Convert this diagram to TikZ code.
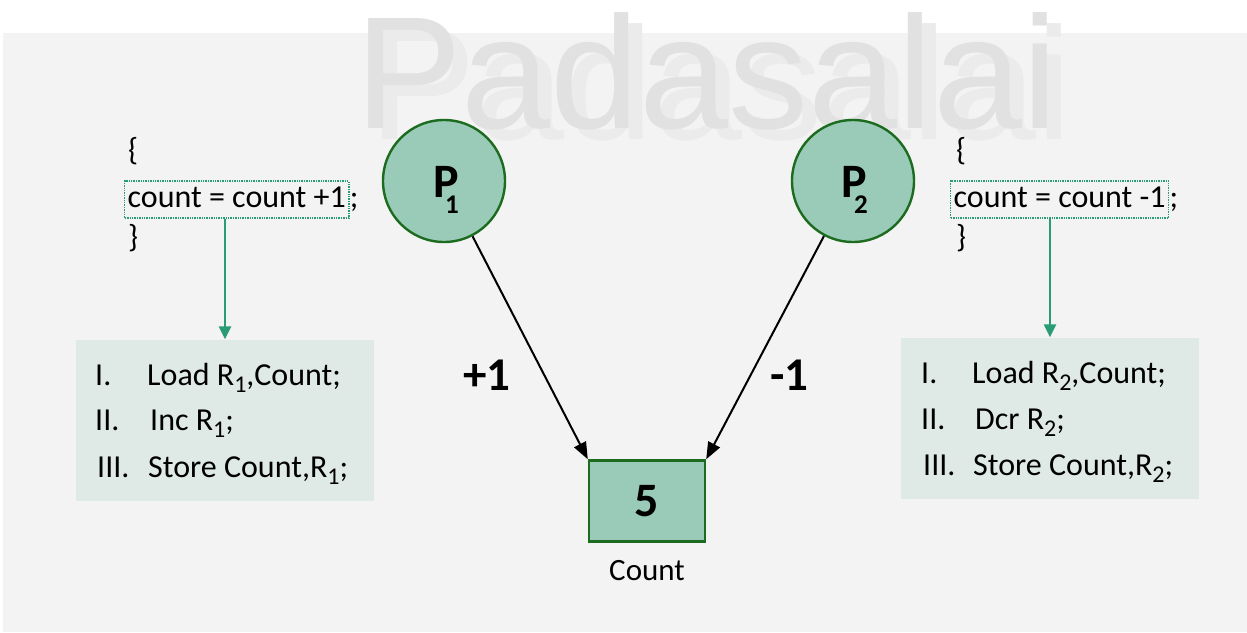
\documentclass[tikz,border=0pt]{standalone}
\usepackage{fontspec}
\setmainfont{Carlito}
\newfontfamily\wmfont{Liberation Sans}
\usetikzlibrary{arrows.meta}
\definecolor{bggray}{HTML}{F3F3F3}
\definecolor{wmdark}{HTML}{E1E1E1}
\definecolor{wmlight}{HTML}{EBEBEB}
\definecolor{procfill}{HTML}{9ACBB9}
\definecolor{procline}{HTML}{1C6B1F}
\definecolor{codegreen}{HTML}{2A9C74}
\definecolor{stepfill}{HTML}{DFE9E5}
\newcommand\regsub[1]{\raisebox{-7pt}{\fontsize{24}{24}\selectfont #1}}
\tikzset{
  txt/.style={anchor=base west, inner sep=0pt, font=\fontsize{32}{34}\selectfont},
  wm/.style={anchor=base west, inner sep=0pt, font=\wmfont\fontsize{160}{160}\selectfont},
  proc/.style={circle, minimum size=122pt, inner sep=0pt, draw=procline, line width=2.4pt, fill=procfill},
  plabel/.style={anchor=base west, inner sep=0pt, font=\bfseries\fontsize{48}{48}\selectfont},
  psub/.style={anchor=base west, inner sep=0pt, font=\bfseries\fontsize{27}{27}\selectfont},
  valbox/.style={rectangle, minimum width=116pt, minimum height=81pt, inner sep=0pt, draw=procline, line width=2.4pt, fill=procfill, font=\bfseries\fontsize{48}{48}\selectfont},
  blk/.style={-{Triangle[length=17pt,width=13pt]}, line width=2pt, black},
  garrow/.style={-{Triangle[length=13pt,width=12pt]}, line width=2.4pt, codegreen},
  exprbox/.style={anchor=base west, draw=codegreen, densely dotted, line width=1.4pt, inner xsep=3pt, inner ysep=6pt, text height=20pt, text depth=5pt, font=\fontsize{32}{34}\selectfont},
  steps/.style={rectangle, fill=stepfill, inner sep=0pt},
  sign/.style={anchor=base west, inner sep=0pt, font=\bfseries\fontsize{47}{47}\selectfont},
}
\begin{document}
\begin{tikzpicture}[x=1pt,y=-1pt]
\useasboundingbox (0,0) rectangle (1247,632);
% page background
\fill[bggray] (3,33) rectangle (1247,632);
% watermark with its soft shadow copy
\node[wm, text=wmlight] (wmshadow) at (369,139) {Padasalai};
\node[wm, text=wmdark] (wmtext) at (355,128) {Padasalai};

% left code fragment
\node[txt] (lopen) at (128,160) {\{};
\node[exprbox] (lexpr) at (124,207) {count = count +1};
\node[txt] (lsemi) at (lexpr.base east) {;};
\node[txt] (lclose) at (128,247) {\}};
\node[steps, minimum width=298pt, minimum height=161pt] (lsteps) at (225,420) {};
\draw[garrow] (lexpr.south -| lsteps.north) -- (lsteps.north);
\node[txt] (lnum1) at (95,385) {I.};
\node[txt] (lins1) at (147,385) {Load R\regsub{1},Count;};
\node[txt] (lnum2) at (95,430) {II.};
\node[txt] (lins2) at (150,430) {Inc R\regsub{1};};
\node[txt] (lnum3) at (97,477) {III.};
\node[txt] (lins3) at (148,477) {Store Count,R\regsub{1};};

% right code fragment
\node[txt] (ropen) at (956,160) {\{};
\node[exprbox] (rexpr) at (950,207) {count = count -1};
\node[txt] (rsemi) at (rexpr.base east) {;};
\node[txt] (rclose) at (956,247) {\}};
\node[steps, minimum width=298pt, minimum height=161pt] (rsteps) at (1050,418) {};
\draw[garrow] (rexpr.south -| rsteps.north) -- (rsteps.north);
\node[txt] (rnum1) at (921,383) {I.};
\node[txt] (rins1) at (972,383) {Load R\regsub{2},Count;};
\node[txt] (rnum2) at (921,429) {II.};
\node[txt] (rins2) at (975,429) {Dcr R\regsub{2};};
\node[txt] (rnum3) at (923,475) {III.};
\node[txt] (rins3) at (973,475) {Store Count,R\regsub{2};};

% processes and the shared counter
\node[proc] (p1) at (444,181) {};
\node[proc] (p2) at (853,181) {};
\node[plabel] (p1P) at (433,197) {P};
\node[psub] (p1s) at (445,213) {1};
\node[plabel] (p2P) at (841,197) {P};
\node[psub] (p2s) at (854,213) {2};
\node[valbox] (cnt) at (647,501) {5};
\node[anchor=base, inner sep=0pt, font=\fontsize{31}{31}\selectfont] (cntlabel) at (647,580) {Count};

\draw[blk] (p1) -- (cnt.north west);
\draw[blk] (p2) -- (cnt.north east);
\node[sign] (plus) at (463,390) {+1};
\node[sign] (minus) at (770,390) {-1};
\end{tikzpicture}
\end{document}
